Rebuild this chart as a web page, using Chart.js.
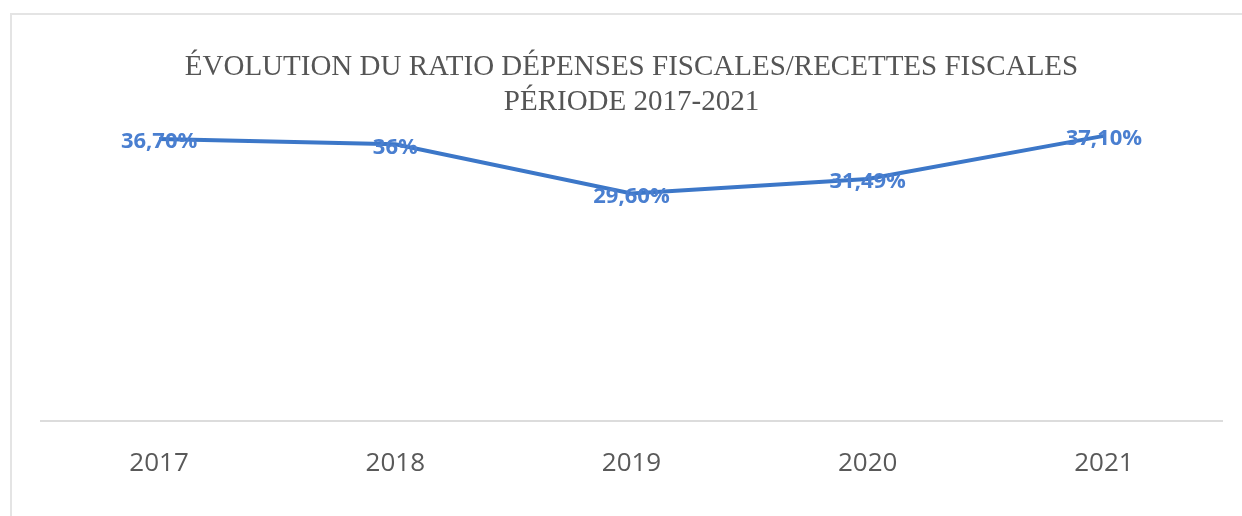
<!DOCTYPE html>
<html>
<head>
<meta charset="utf-8">
<script src="https://cdn.jsdelivr.net/npm/chart.js@4"></script>
<style>
  html, body { margin: 0; padding: 0; background: #fff; }
  #frame {
    position: absolute; left: 10px; top: 13px; width: 1232px; height: 503px;
    border-left: 2px solid #e4e4e4; border-top: 2px solid #e4e4e4;
    box-sizing: border-box;
  }
  #wrap { position: absolute; left: 0; top: 0; width: 1242px; height: 516px; }
</style>
</head>
<body>
<div id="frame"></div>
<div id="wrap"><canvas id="ratioChart" width="1242" height="516"></canvas></div>
<script>
const years = ['2017', '2018', '2019', '2020', '2021'];
const ratioValues = [36.70, 36.00, 29.60, 31.49, 37.10];
const ratioLabels = ['36,70%', '36%', '29,60%', '31,49%', '37,10%'];
const titleLines = [
  'ÉVOLUTION DU RATIO DÉPENSES FISCALES/RECETTES FISCALES',
  'PÉRIODE 2017-2021'
];

// simple value labels drawn on top of each point
const pointLabels = {
  id: 'pointLabels',
  afterDatasetsDraw(chart) {
    const ctx = chart.ctx;
    const meta = chart.getDatasetMeta(0);
    ctx.save();
    ctx.font = '700 22px "Open Sans"';
    ctx.fillStyle = '#4a7fd0';
    ctx.textAlign = 'center';
    ctx.textBaseline = 'middle';
    meta.data.forEach((pt, i) => {
      ctx.fillText(ratioLabels[i], pt.x, pt.y + 3);
    });
    ctx.restore();
  }
};

new Chart(document.getElementById('ratioChart'), {
  type: 'line',
  data: {
    labels: years,
    datasets: [{
      data: ratioValues,
      borderColor: '#3c77c8',
      borderWidth: 4,
      pointRadius: 0,
      tension: 0,
      fill: false
    }]
  },
  options: {
    responsive: false,
    animation: false,
    layout: { padding: { left: 41, right: 20, top: 0, bottom: 18 } },
    plugins: {
      legend: { display: false },
      tooltip: { enabled: false },
      title: {
        display: true,
        text: titleLines,
        color: '#555555',
        font: { family: '"Liberation Serif"', size: 29, weight: 'normal', lineHeight: 1.2 },
        padding: { top: 50, bottom: -6 }
      }
    },
    scales: {
      x: {
        offset: true,
        grid: { display: false },
        border: { display: true, color: '#dcdcdc', width: 2 },
        ticks: {
          color: '#595959',
          padding: 19,
          font: { family: '"Open Sans"', size: 26 }
        }
      },
      y: {
        display: false,
        min: 0,
        max: 40
      }
    }
  },
  plugins: [pointLabels]
});
</script>
</body>
</html>
